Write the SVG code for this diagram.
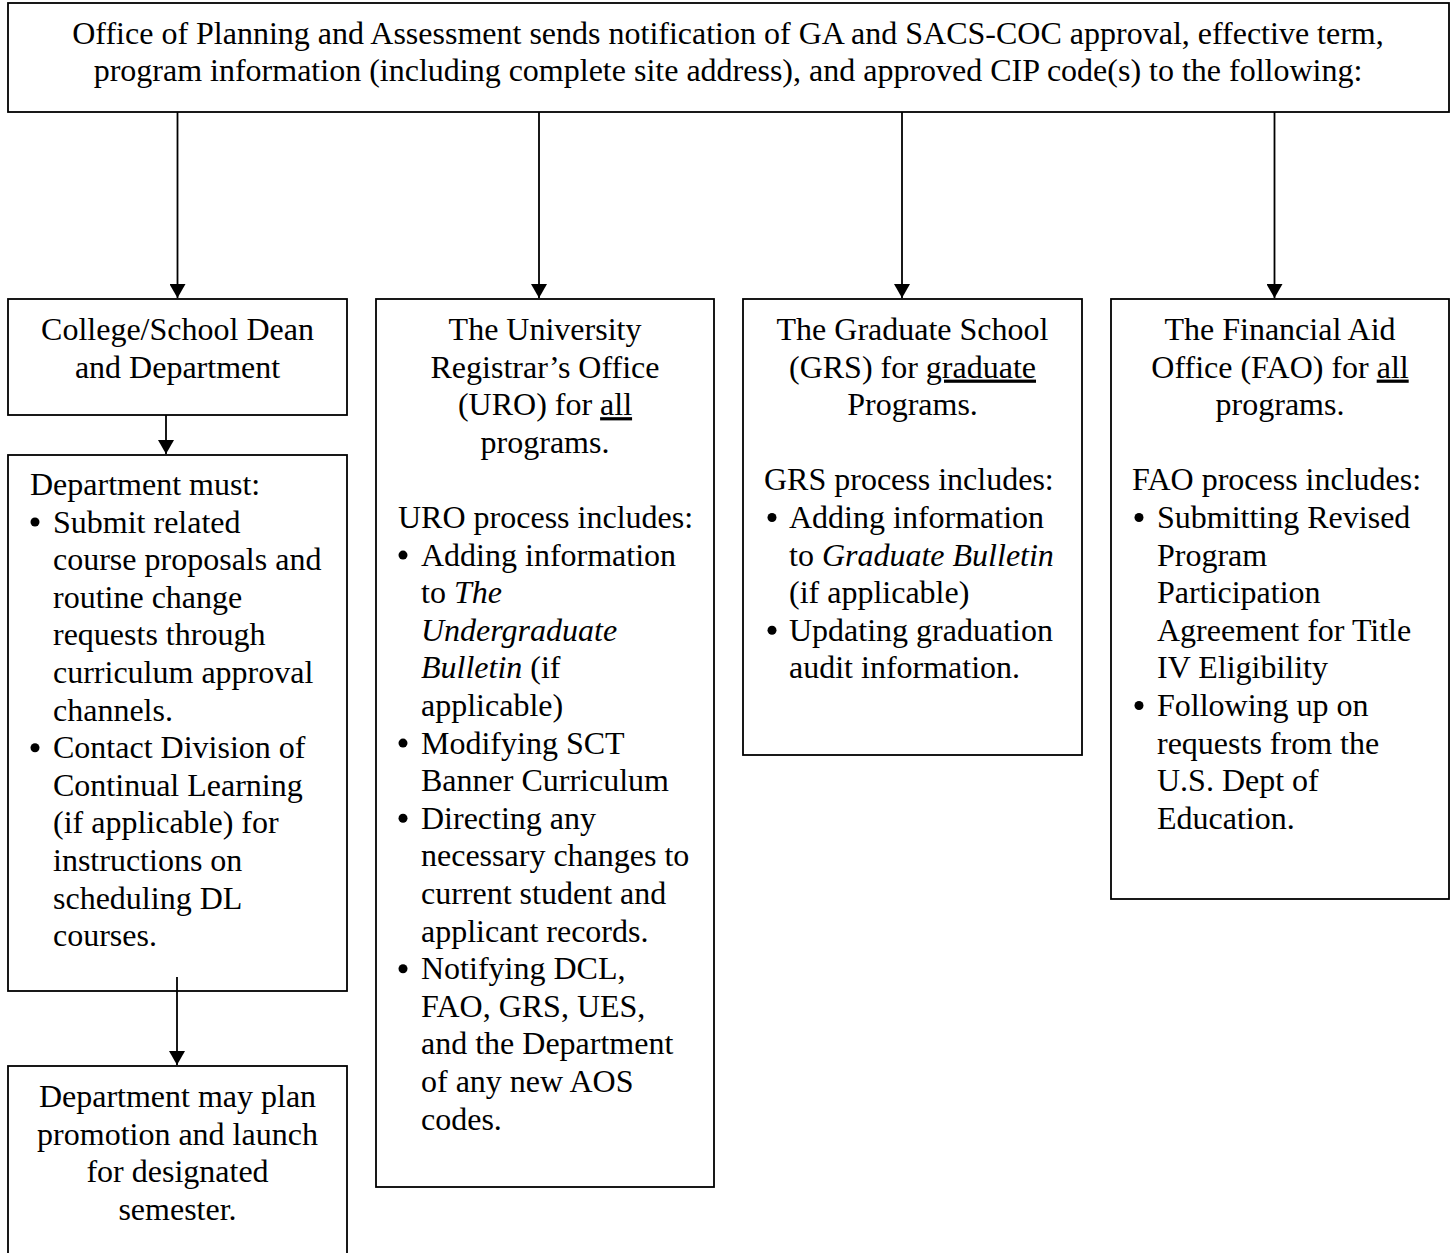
<svg xmlns="http://www.w3.org/2000/svg" width="1454" height="1253" viewBox="0 0 1454 1253">
<style>
  .box { fill: #ffffff; stroke: #000000; stroke-width: 1.8; }
  .t { font-family: "Liberation Serif", "Times New Roman", serif; font-size: 32px; fill: #000000; }
  .c { text-anchor: middle; }
  .i { font-style: italic; }
  .u { text-decoration: underline; }
  .b { fill: #000000; }
  .conn { stroke: #000000; stroke-width: 1.8; fill: none; marker-end: url(#ah); }
</style>
<defs>
  <marker id="ah" viewBox="0 0 14 16" refX="14" refY="8" markerWidth="14" markerHeight="16" markerUnits="userSpaceOnUse" orient="auto">
    <path d="M0,0 L14,8 L0,16 z" fill="#000000"/>
  </marker>
</defs>
<rect width="1454" height="1253" fill="#ffffff"/>

<g id="top">
  <rect class="box" x="8" y="3" width="1441" height="109"/>
  <text class="t c" x="728" y="43.5">Office of Planning and Assessment sends notification of GA and SACS-COC approval, effective term,</text>
  <text class="t c" x="728" y="81">program information (including complete site address), and approved CIP code(s) to the following:</text>
</g>

<g id="dean">
  <rect class="box" x="8" y="299" width="339" height="116"/>
  <text class="t c" x="177.5" y="340">College/School Dean</text>
  <text class="t c" x="177.5" y="377.6">and Department</text>
</g>

<g id="dept-must">
  <rect class="box" x="8" y="455" width="339" height="536"/>
  <text class="t" x="30" y="495">Department must:</text>
  <circle class="b" cx="35" cy="522" r="4.5"/>
  <text class="t" x="53" y="532.6">Submit related</text>
  <text class="t" x="53" y="570.2">course proposals and</text>
  <text class="t" x="53" y="607.8">routine change</text>
  <text class="t" x="53" y="645.4">requests through</text>
  <text class="t" x="53" y="683">curriculum approval</text>
  <text class="t" x="53" y="720.6">channels.</text>
  <circle class="b" cx="35" cy="747.7" r="4.5"/>
  <text class="t" x="53" y="758.2">Contact Division of</text>
  <text class="t" x="53" y="795.8">Continual Learning</text>
  <text class="t" x="53" y="833.4">(if applicable) for</text>
  <text class="t" x="53" y="871">instructions on</text>
  <text class="t" x="53" y="908.6">scheduling DL</text>
  <text class="t" x="53" y="946.2">courses.</text>
</g>

<g id="dept-may">
  <rect class="box" x="8" y="1066" width="339" height="210"/>
  <text class="t c" x="177.5" y="1107">Department may plan</text>
  <text class="t c" x="177.5" y="1144.6">promotion and launch</text>
  <text class="t c" x="177.5" y="1182.2">for designated</text>
  <text class="t c" x="177.5" y="1219.8">semester.</text>
</g>

<g id="uro">
  <rect class="box" x="376" y="299" width="338" height="888"/>
  <text class="t c" x="545" y="340">The University</text>
  <text class="t c" x="545" y="377.6">Registrar’s Office</text>
  <text class="t c" x="545" y="415.2">(URO) for <tspan class="u">all</tspan></text>
  <text class="t c" x="545" y="452.8">programs.</text>
  <text class="t" x="398" y="528">URO process includes:</text>
  <circle class="b" cx="403" cy="555.1" r="4.5"/>
  <text class="t" x="421" y="565.6">Adding information</text>
  <text class="t" x="421" y="603.2">to <tspan class="i">The</tspan></text>
  <text class="t i" x="421" y="640.8">Undergraduate</text>
  <text class="t" x="421" y="678.4"><tspan class="i">Bulletin</tspan> (if</text>
  <text class="t" x="421" y="716">applicable)</text>
  <circle class="b" cx="403" cy="743.1" r="4.5"/>
  <text class="t" x="421" y="753.6">Modifying SCT</text>
  <text class="t" x="421" y="791.2">Banner Curriculum</text>
  <circle class="b" cx="403" cy="818.3" r="4.5"/>
  <text class="t" x="421" y="828.8">Directing any</text>
  <text class="t" x="421" y="866.4">necessary changes to</text>
  <text class="t" x="421" y="904">current student and</text>
  <text class="t" x="421" y="941.6">applicant records.</text>
  <circle class="b" cx="403" cy="968.7" r="4.5"/>
  <text class="t" x="421" y="979.2">Notifying DCL,</text>
  <text class="t" x="421" y="1016.8">FAO, GRS, UES,</text>
  <text class="t" x="421" y="1054.4">and the Department</text>
  <text class="t" x="421" y="1092">of any new AOS</text>
  <text class="t" x="421" y="1129.6">codes.</text>
</g>

<g id="grs">
  <rect class="box" x="743" y="299" width="339" height="456"/>
  <text class="t c" x="912.5" y="340">The Graduate School</text>
  <text class="t c" x="912.5" y="377.6">(GRS) for <tspan class="u">graduate</tspan></text>
  <text class="t c" x="912.5" y="415.2">Programs.</text>
  <text class="t" x="764" y="490.4">GRS process includes:</text>
  <circle class="b" cx="772" cy="517.5" r="4.5"/>
  <text class="t" x="789" y="528">Adding information</text>
  <text class="t" x="789" y="565.6">to <tspan class="i">Graduate Bulletin</tspan></text>
  <text class="t" x="789" y="603.2">(if applicable)</text>
  <circle class="b" cx="772" cy="630.3" r="4.5"/>
  <text class="t" x="789" y="640.8">Updating graduation</text>
  <text class="t" x="789" y="678.4">audit information.</text>
</g>

<g id="fao">
  <rect class="box" x="1111" y="299" width="338" height="600"/>
  <text class="t c" x="1280" y="340">The Financial Aid</text>
  <text class="t c" x="1280" y="377.6">Office (FAO) for <tspan class="u">all</tspan></text>
  <text class="t c" x="1280" y="415.2">programs.</text>
  <text class="t" x="1132" y="490.4">FAO process includes:</text>
  <circle class="b" cx="1139" cy="517.5" r="4.5"/>
  <text class="t" x="1157" y="528">Submitting Revised</text>
  <text class="t" x="1157" y="565.6">Program</text>
  <text class="t" x="1157" y="603.2">Participation</text>
  <text class="t" x="1157" y="640.8">Agreement for Title</text>
  <text class="t" x="1157" y="678.4">IV Eligibility</text>
  <circle class="b" cx="1139" cy="705.5" r="4.5"/>
  <text class="t" x="1157" y="716">Following up on</text>
  <text class="t" x="1157" y="753.6">requests from the</text>
  <text class="t" x="1157" y="791.2">U.S. Dept of</text>
  <text class="t" x="1157" y="828.8">Education.</text>
</g>

<g id="connectors">
  <line class="conn" x1="177.5" y1="112" x2="177.5" y2="298"/>
  <line class="conn" x1="539" y1="112" x2="539" y2="298"/>
  <line class="conn" x1="902" y1="112" x2="902" y2="298"/>
  <line class="conn" x1="1274.5" y1="112" x2="1274.5" y2="298"/>
  <line class="conn" x1="166" y1="415" x2="166" y2="454"/>
  <line class="conn" x1="177" y1="977" x2="177" y2="1065"/>
</g>
</svg>
